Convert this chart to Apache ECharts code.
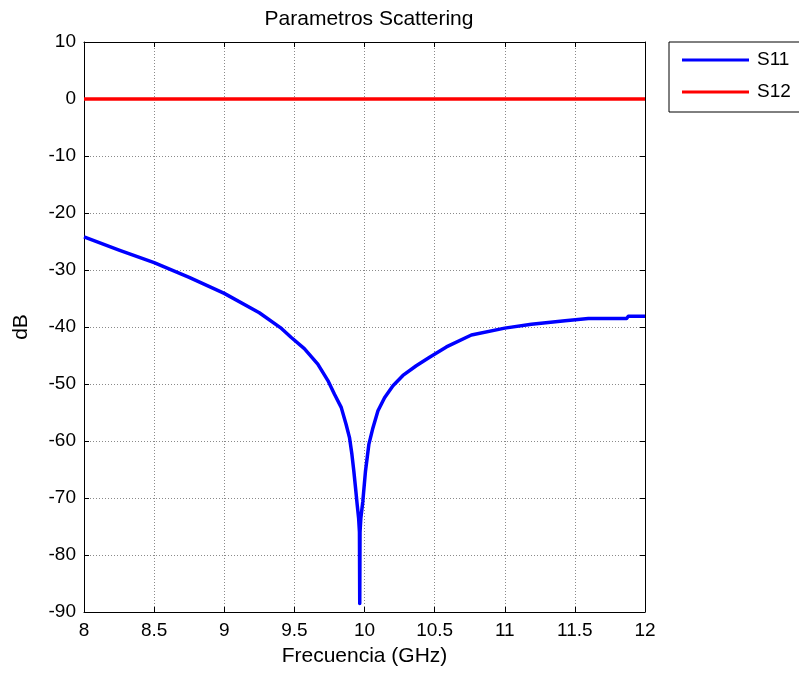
<!DOCTYPE html>
<html>
<head>
<meta charset="utf-8">
<script src="https://cdn.jsdelivr.net/npm/echarts@6/dist/echarts.min.js"></script>
<style>html,body{margin:0;padding:0;background:#fff;}#c{width:799px;height:673px;}</style>
</head>
<body>
<div id="c"></div>
<script>
const FONT = 'Liberation Sans, Arial, sans-serif';
const freq = [8.0, 8.25, 8.5, 8.75, 9.0, 9.25, 9.4, 9.476, 9.571, 9.667, 9.739, 9.786, 9.834, 9.869, 9.893, 9.910, 9.924, 9.936, 9.948, 9.958, 9.964, 9.966, 9.968, 9.974, 9.988, 10.007, 10.031, 10.060, 10.096, 10.143, 10.203, 10.274, 10.369, 10.464, 10.584, 10.762, 11.0, 11.19, 11.43, 11.596, 11.869, 11.881, 12.0];
const s11 = [-24.2, -26.5, -28.7, -31.3, -34.1, -37.5, -40.1, -41.8, -43.8, -46.5, -49.4, -51.8, -54.1, -57.1, -59.4, -62.3, -65.3, -68.2, -71.2, -73.5, -76.0, -88.5, -76.0, -73.5, -70.6, -65.3, -60.6, -57.7, -54.7, -52.4, -50.3, -48.5, -46.8, -45.3, -43.5, -41.4, -40.2, -39.5, -38.9, -38.5, -38.5, -38.1, -38.1];
const s12Freq = [8.0, 12.0];
const s12 = [0, 0];
const xTicks = {min: 8, max: 12, interval: 0.5};
const yTicks = {min: -90, max: 10, interval: 10};

const chart = echarts.init(document.getElementById('c'), null, {renderer: 'canvas'});
const axisLineStyle = {color: '#000', width: 1};
const gridLine = {show: true, lineStyle: {color: '#8a8a8a', type: [1, 2], width: 1}};
const labelStyle = {color: '#000', fontSize: 19, fontFamily: FONT};
chart.setOption({
  animation: false,
  backgroundColor: '#fff',
  title: {
    text: 'Parametros Scattering',
    left: 364, top: 4, textAlign: 'center',
    textStyle: {fontSize: 21, fontWeight: 'normal', color: '#000', fontFamily: FONT}
  },
  legend: {
    orient: 'vertical', left: 669, top: 42,
    backgroundColor: '#fff', borderColor: '#000', borderWidth: 1,
    padding: [7, 20, 9, 13], itemGap: 10,
    icon: 'rect', itemWidth: 67, itemHeight: 3,
    textStyle: {fontSize: 19, fontFamily: FONT, color: '#000', lineHeight: 22, padding: [0, 0, 0, 3]},
    data: ['S11', 'S12']
  },
  grid: {left: 84, right: 154, top: 42, bottom: 61, containLabel: false},
  xAxis: [{
    type: 'value', min: xTicks.min, max: xTicks.max, interval: xTicks.interval,
    name: 'Frecuencia (GHz)', nameLocation: 'middle', nameGap: 34,
    nameTextStyle: {fontSize: 21, color: '#000', fontFamily: FONT},
    axisLine: {show: true, onZero: false, lineStyle: axisLineStyle},
    axisTick: {show: true, inside: true, length: 5, lineStyle: axisLineStyle},
    axisLabel: Object.assign({margin: 9, formatter: v => String(v)}, labelStyle),
    splitLine: gridLine
  }, {
    type: 'value', position: 'top', min: xTicks.min, max: xTicks.max, interval: xTicks.interval,
    axisLine: {show: true, onZero: false, lineStyle: axisLineStyle},
    axisTick: {show: true, inside: true, length: 5, lineStyle: axisLineStyle},
    axisLabel: {show: false}, splitLine: {show: false}
  }],
  yAxis: [{
    type: 'value', min: yTicks.min, max: yTicks.max, interval: yTicks.interval,
    name: 'dB', nameLocation: 'middle', nameGap: 52,
    nameTextStyle: {fontSize: 21, color: '#000', fontFamily: FONT},
    axisLine: {show: true, onZero: false, lineStyle: axisLineStyle},
    axisTick: {show: true, inside: true, length: 5, lineStyle: axisLineStyle},
    axisLabel: Object.assign({margin: 8}, labelStyle),
    splitLine: gridLine
  }, {
    type: 'value', position: 'right', min: yTicks.min, max: yTicks.max, interval: yTicks.interval,
    axisLine: {show: true, onZero: false, lineStyle: axisLineStyle},
    axisTick: {show: true, inside: true, length: 5, lineStyle: axisLineStyle},
    axisLabel: {show: false}, splitLine: {show: false}
  }],
  series: [{
    name: 'S11', type: 'line', xAxisIndex: 0, yAxisIndex: 0,
    data: freq.map((f, i) => [f, s11[i]]),
    showSymbol: false, symbol: 'none', smooth: false,
    lineStyle: {color: '#0000ff', width: 3.5, join: 'round'}, itemStyle: {color: '#0000ff'}
  }, {
    name: 'S12', type: 'line', xAxisIndex: 0, yAxisIndex: 0,
    data: s12Freq.map((f, i) => [f, s12[i]]),
    showSymbol: false, symbol: 'none',
    lineStyle: {color: '#ff0000', width: 3.5}, itemStyle: {color: '#ff0000'}
  }]
});
</script>
</body>
</html>
